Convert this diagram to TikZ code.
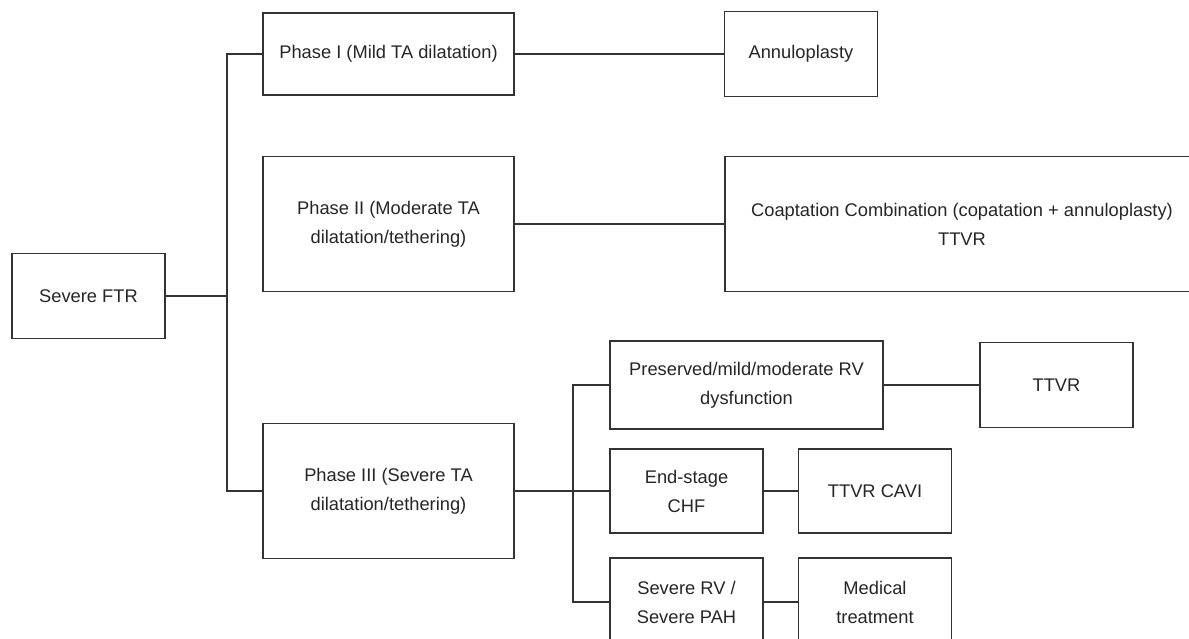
\documentclass[tikz,border=0pt]{standalone}
\usepackage{fontspec}
\setmainfont{Liberation Sans}

\begin{document}
\begin{tikzpicture}[x=1pt,y=-1pt,draw=black!80,line width=1.4pt,
    box/.style={draw,fill=white,align=center,inner sep=0pt,text=black!85,
        font=\fontsize{18.3}{29}\selectfont},
    smallbox/.style={box,minimum width=153,minimum height=85},
    phasebox/.style={box,minimum width=251,minimum height=135}]
            \useasboundingbox (0,0) rectangle (1189,639);

            \node[smallbox] (ftr) at (88.5,296) {Severe FTR};
            \node[box,minimum width=251,minimum height=82] (p1) at (388.5,54) {Phase I (Mild TA dilatation)};
            \node[phasebox] (p2) at (388.5,224) {Phase II (Moderate TA\\dilatation/tethering)};
            \node[phasebox] (p3) at (388.5,491) {Phase III (Severe TA\\dilatation/tethering)};

            \node[smallbox] (annulo) at (801,54) {Annuloplasty};
            \node[box,minimum width=474,minimum height=135] (coapt) at (962,224) {Coaptation Combination (copatation + annuloplasty)\\TTVR};

            \node[box,minimum width=273,minimum height=88] (pres) at (746.5,385) {Preserved/mild/moderate RV\\dysfunction};
            \node[smallbox] (ttvr) at (1056.5,385) {TTVR};
            \node[smallbox,minimum height=84] (chf) at (686.5,491) {End-stage\\CHF};
            \node[smallbox,minimum height=84] (cavi) at (875,491) {TTVR CAVI};
            \node[smallbox,minimum height=88] (sevrv) at (686.5,602) {Severe RV /\\Severe PAH};
            \node[smallbox,minimum height=88] (medic) at (875,602) {Medical\\treatment};

            \coordinate (trunk) at (227,54);
            \coordinate (branch) at (573,491);

            \draw (p1.west) -- (trunk) -- (trunk |- p3.west) -- (p3.west);
            \draw (ftr.east) -- (ftr.east -| trunk);
            \draw (p1.east) -- (annulo.west);
            \draw (p2.east) -- (coapt.west);

            \draw (p3.east) -- (chf.west);
            \draw (pres.west) -- (branch |- pres.west) -- (branch |- sevrv.west) -- (sevrv.west);
            \draw (pres.east) -- (ttvr.west);
            \draw (chf.east) -- (cavi.west);
            \draw (sevrv.east) -- (medic.west);
        \end{tikzpicture}
\end{document}
